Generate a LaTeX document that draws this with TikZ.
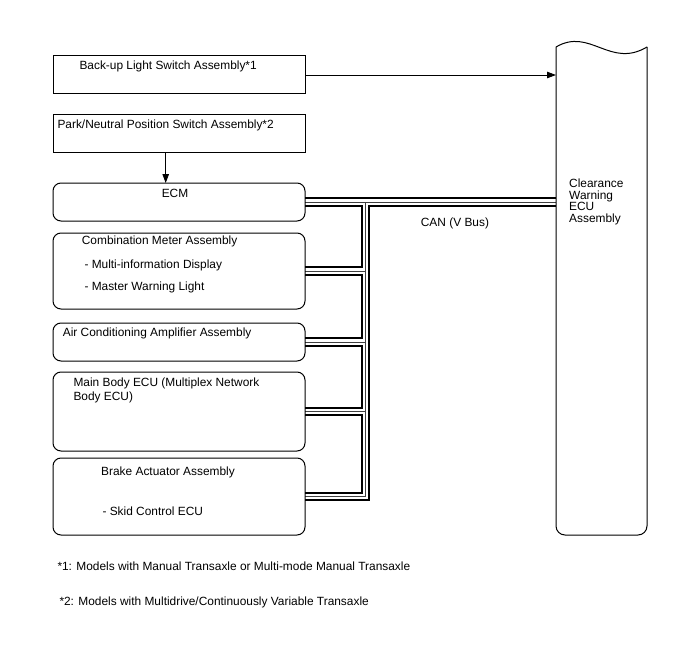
\documentclass[tikz,border=0pt]{standalone}
\usepackage{fontspec}
\setmainfont{Liberation Sans}
\usetikzlibrary{arrows.meta}
\pgfdeclarelayer{back}
\pgfdeclarelayer{bg}
\pgfsetlayers{back,bg,main}
\begin{document}
\begin{tikzpicture}[x=1pt,y=-1pt,
  box/.style={draw, line width=1pt, inner sep=0pt, outer sep=0pt, anchor=north west, minimum width=252pt},
  rbox/.style={box, rounded corners=8pt},
  lbl/.style={inner sep=0pt, anchor=base west, font=\fontsize{11.9}{13}\selectfont},
  arr/.style={line width=0.9pt, -{Triangle[length=9pt,width=6.5pt]}},
  outline/.style={line width=1pt},
  bus/.style={line width=9.6pt, postaction={draw=white, line width=5.2pt}, postaction={draw=black!75, line width=0.9pt}}]
\useasboundingbox (0,0) rectangle (688,658);
\begin{pgfonlayer}{back}
\fill[white] (0,0) rectangle (688,658);
\end{pgfonlayer}

% boxes
\node[box, minimum height=38pt] (bk) at (53,56) {};
\node[box, minimum height=38pt] (pn) at (53,115) {};
\node[rbox, minimum height=38pt] (ecm) at (53,183) {};
\node[rbox, minimum height=76pt] (cmb) at (53,233) {};
\node[rbox, minimum height=38pt] (air) at (53,323) {};
\node[rbox, minimum height=79pt] (mb) at (53,372) {};
\node[rbox, minimum height=77pt] (br) at (53,458) {};

% ECU
\node[anchor=north west, minimum width=91pt, minimum height=488pt, inner sep=0pt, outer sep=0pt] (ecu) at (556,47) {};
\draw[outline] (ecu.north west) .. controls (590,27) and (610,69) .. (ecu.north east);
\draw[outline, rounded corners=9pt] (ecu.north west) -- (ecu.south west) -- (ecu.south east) -- (ecu.north east);

% texts
\node[lbl] (t1) at (79.3,69.3) {Back-up Light Switch Assembly*1};
\node[lbl] (t2) at (57.3,129) {Park/Neutral Position Switch Assembly*2};
\node[lbl, anchor=base] (t3) at (175,197.3) {ECM};
\node[lbl] (t4) at (81.7,244) {Combination Meter Assembly};
\node[lbl] (t5) at (84.3,268.3) {- Multi-information Display};
\node[lbl] (t6) at (84.3,290.7) {- Master Warning Light};
\node[lbl] (t7) at (62.7,336.7) {Air Conditioning Amplifier Assembly};
\node[lbl] (t8) at (73.3,386.7) {Main Body ECU (Multiplex Network};
\node[lbl] (t9) at (73.3,400) {Body ECU)};
\node[lbl] (t10) at (101,475) {Brake Actuator Assembly};
\node[lbl] (t11) at (102.3,515) {- Skid Control ECU};
\node[lbl] (e1) at (569,187.3) {Clearance};
\node[lbl] (e2) at (569,199) {Warning};
\node[lbl] (e3) at (569,210.7) {ECU};
\node[lbl] (e4) at (569,222.4) {Assembly};
\node[lbl] (can) at (420.7,226.5) {CAN (V Bus)};
\node[lbl] (f1) at (57.3,570) {*1: Models with Manual Transaxle or Multi-mode Manual Transaxle};
\node[lbl] (f2) at (59.3,605) {*2: Models with Multidrive/Continuously Variable Transaxle};

% arrows
\coordinate (ax) at (165.7,0);
\draw[arr] (bk.east) -- (bk.east -| ecu.west);
\draw[arr] (pn.south -| ax) -- (ecm.north -| ax);

% CAN bus
\coordinate (bus) at (365.5,0);
\begin{pgfonlayer}{bg}
\draw[bus] (ecm.east) -- (ecm.east -| ecu.west)
  (ecm.east -| bus) -- (br.east -| bus) -- (br.east)
  (cmb.east) -- (cmb.east -| bus)
  (air.east) -- (air.east -| bus)
  (mb.east) -- (mb.east -| bus);
\end{pgfonlayer}
\end{tikzpicture}
\end{document}
